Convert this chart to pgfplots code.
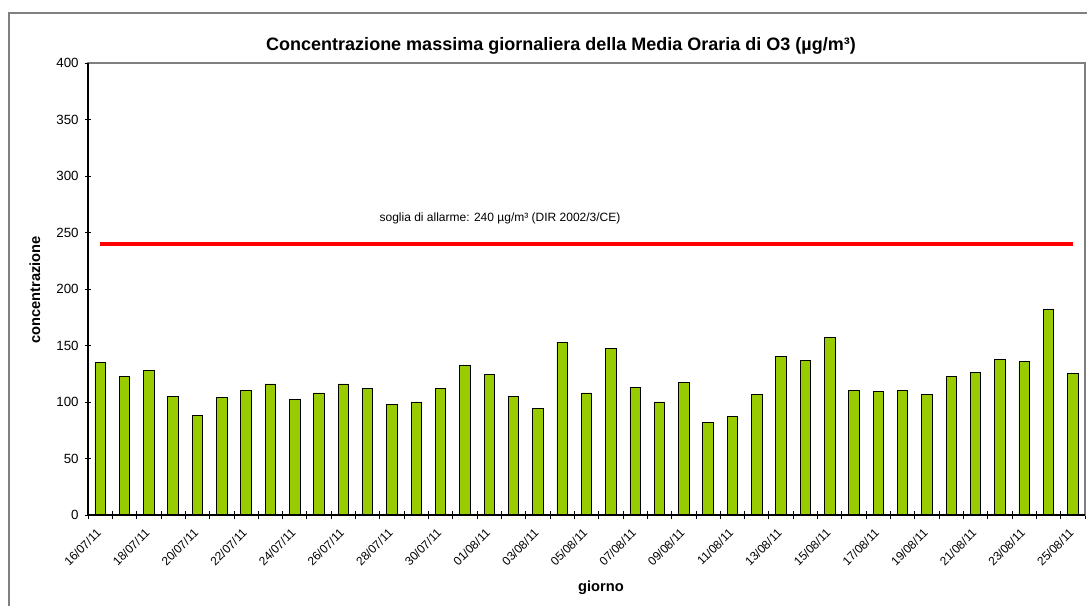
\documentclass[border=0pt]{standalone}
\usepackage{pgfplots}
\pgfplotsset{compat=1.18}
\usepackage{fontspec}
\setmainfont{Liberation Sans}
\definecolor{bargreen}{RGB}{153,204,0}
\definecolor{framegray}{RGB}{128,128,128}
\begin{document}
\begin{tikzpicture}[x=0.75pt,y=0.75pt]
\useasboundingbox (0,0) rectangle (1087,606);
\draw[framegray, line width=1.2pt] (9,0) -- (9,593) -- (1087,593);
\begin{axis}[
  at={(66pt,68.25pt)}, anchor=south west,
  scale only axis, width=747.75pt, height=339pt,
  xmin=-0.5, xmax=40.5, ymin=0, ymax=400,
  ytick={0,50,...,400},
  xtick={0,2,...,40},
  xticklabels={16/07/11,18/07/11,20/07/11,22/07/11,24/07/11,26/07/11,28/07/11,30/07/11,01/08/11,03/08/11,05/08/11,07/08/11,09/08/11,11/08/11,13/08/11,15/08/11,17/08/11,19/08/11,21/08/11,23/08/11,25/08/11},
  minor xtick={-0.5,0.5,...,40.5},
  xtick pos=left, ytick pos=left,
  major x tick style={draw=none},
  tick align=center,
  major tick length=5pt,
  minor tick length=6pt,
  tick style={black, line width=0.6pt},
  axis line style={framegray, line width=0.8pt},
  /pgf/number format/assume math mode=true,
  yticklabel style={font=\fontsize{10}{12}\selectfont, xshift=-1pt},
  xticklabel style={font=\fontsize{9}{10}\selectfont, rotate=45, anchor=east, yshift=-6pt, xshift=-4pt},
  clip=false,
]
\addplot[ybar, bar width=0.43, fill=bargreen, draw=black, line width=0.6pt] coordinates {
(0,135) (1,123) (2,128) (3,105) (4,88) (5,104) (6,110) (7,116) (8,102) (9,108)
(10,116) (11,112) (12,98) (13,100) (14,112) (15,132) (16,124) (17,105) (18,94) (19,153)
(20,108) (21,147) (22,113) (23,100) (24,117) (25,82) (26,87) (27,107) (28,140) (29,137)
(30,157) (31,110) (32,109) (33,110) (34,107) (35,123) (36,126) (37,138) (38,136) (39,182)
(40,125)};
\addplot[sharp plot, red, line width=3pt] coordinates {(0,240) (40,240)};
\draw[black, line width=0.8pt] (rel axis cs:0,1) -- (rel axis cs:0,0) -- (rel axis cs:1,0);
\end{axis}
\node[font=\bfseries\fontsize{13.5}{15}\selectfont] at (561,560) {Concentrazione massima giornaliera della Media Oraria di O3 (µg/m³)};
\node[font=\fontsize{9}{10}\selectfont] at (500,388) {soglia di allarme: 240 µg/m³ (DIR 2002/3/CE)};
\node[font=\bfseries\fontsize{11}{12}\selectfont, rotate=90] at (35,316) {concentrazione};
\node[font=\bfseries\fontsize{11}{12}\selectfont] at (601,18) {giorno};
\end{tikzpicture}
\end{document}
